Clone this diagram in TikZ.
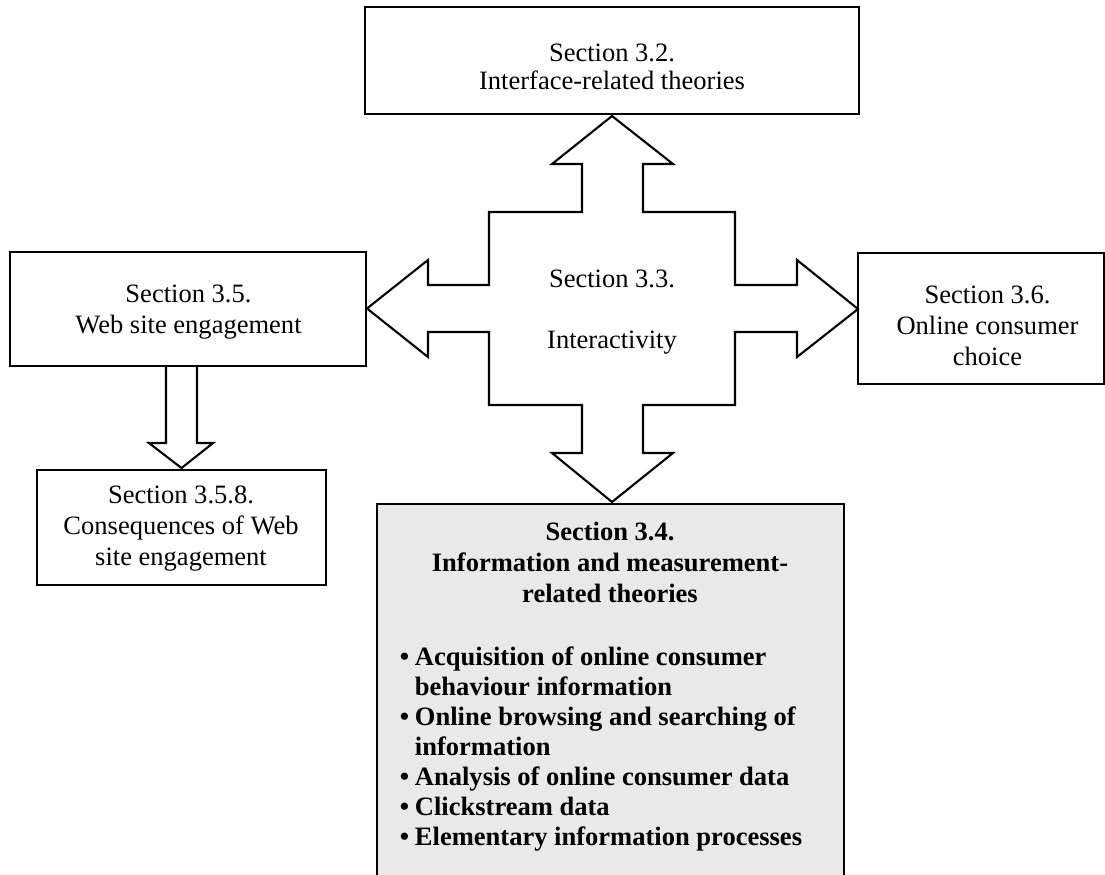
\documentclass[tikz,border=0pt]{standalone}
\usepackage{fontspec}
\setmainfont{Liberation Serif}
\usetikzlibrary{calc}
\definecolor{panelgray}{RGB}{233,233,233}
\begin{document}
\begin{tikzpicture}[x=0.02cm, y=-0.02cm,
  box/.style={draw, line width=1.2pt, inner sep=0pt},
  lbl/.style={anchor=base, align=center, inner sep=0pt,
    font=\fontsize{15.1pt}{17.4pt}\selectfont},
  blist/.style={anchor=base west, align=left, inner sep=0pt,
    font=\fontsize{15.1pt}{17pt}\selectfont\bfseries},
  blockarrow/.style={draw, line width=1.2pt, line join=miter, fill=white}]
\useasboundingbox (0,0) rectangle (1105,875);

% section boxes
\node[box, minimum width=9.88cm, minimum height=2.14cm] (s32) at (612,60.5) {};
\node[box, minimum width=7.12cm, minimum height=2.28cm] (s35) at (188,309) {};
\node[box, minimum width=4.92cm, minimum height=2.62cm] (s36) at (981,318.5) {};
\node[box, minimum width=5.78cm, minimum height=2.30cm] (s358) at (181.5,527.5) {};
\node[fill=panelgray, inner sep=0pt, anchor=north,
      minimum width=9.34cm, minimum height=7.46cm] (s34) at (610.5,504) {};
\draw[line width=1.2pt] (s34.south west) -- (s34.north west)
  -- (s34.north east) -- (s34.south east);

% four-way block arrow around the centre
\coordinate (c) at (612,309);
\draw[blockarrow] (c)
  ++(0,-193) -- ++(61,48) -- ++(-30,0) -- ++(0,48) -- ++(92,0) -- ++(0,73)
  -- ++(62,0) -- ++(0,-25) -- ++(61,49) -- ++(-61,48) -- ++(0,-25)
  -- ++(-62,0) -- ++(0,73) -- ++(-92,0) -- ++(0,48) -- ++(30,0)
  -- ++(-61,49) -- ++(-60,-49) -- ++(30,0) -- ++(0,-48) -- ++(-93,0)
  -- ++(0,-73) -- ++(-61,0) -- ++(0,25) -- ++(-61,-48.5) -- ++(61,-48.5)
  -- ++(0,25) -- ++(61,0) -- ++(0,-73) -- ++(93,0) -- ++(0,-48)
  -- ++(-30,0) -- cycle;

% block arrow from 3.5 down to 3.5.8
\coordinate (a0) at (s358.north |- s35.south);
\draw[blockarrow] (a0) ++(-15.5,0) -- ++(0,76) -- ++(-17,0) -- ++(32.5,25)
  -- ++(31.5,-25) -- ++(-16,0) -- ++(0,-76);

% texts (each anchored on the baseline of its last line)
\node[lbl, font=\fontsize{15.1pt}{16.1pt}\selectfont] (t32) at (612,90)
  {Section 3.2.\\Interface-related theories};
\node[lbl] (t33a) at (612,287) {Section 3.3.};
\node[lbl] (t33b) at (612,348) {Interactivity};
\node[lbl] (t35) at (188.5,333) {Section 3.5.\\Web site engagement};
\node[lbl] (t36) at (987.5,365) {Section 3.6.\\Online consumer\\choice};
\node[lbl] (t358) at (181,565) {Section 3.5.8.\\Consequences of Web\\site engagement};
\node[lbl, font=\fontsize{15.1pt}{17.6pt}\selectfont\bfseries] (t34) at (610,602)
  {Section 3.4.\\Information and measurement-\\related theories};
\node[blist] (t34l) at (399.5,845)
  {\makebox[8.6pt][l]{\textbullet}Acquisition of online consumer\\
   \hspace*{8.6pt}behaviour information\\
   \makebox[8.6pt][l]{\textbullet}Online browsing and searching of\\
   \hspace*{8.6pt}information\\
   \makebox[8.6pt][l]{\textbullet}Analysis of online consumer data\\
   \makebox[8.6pt][l]{\textbullet}Clickstream data\\
   \makebox[8.6pt][l]{\textbullet}Elementary information processes};
\end{tikzpicture}
\end{document}
